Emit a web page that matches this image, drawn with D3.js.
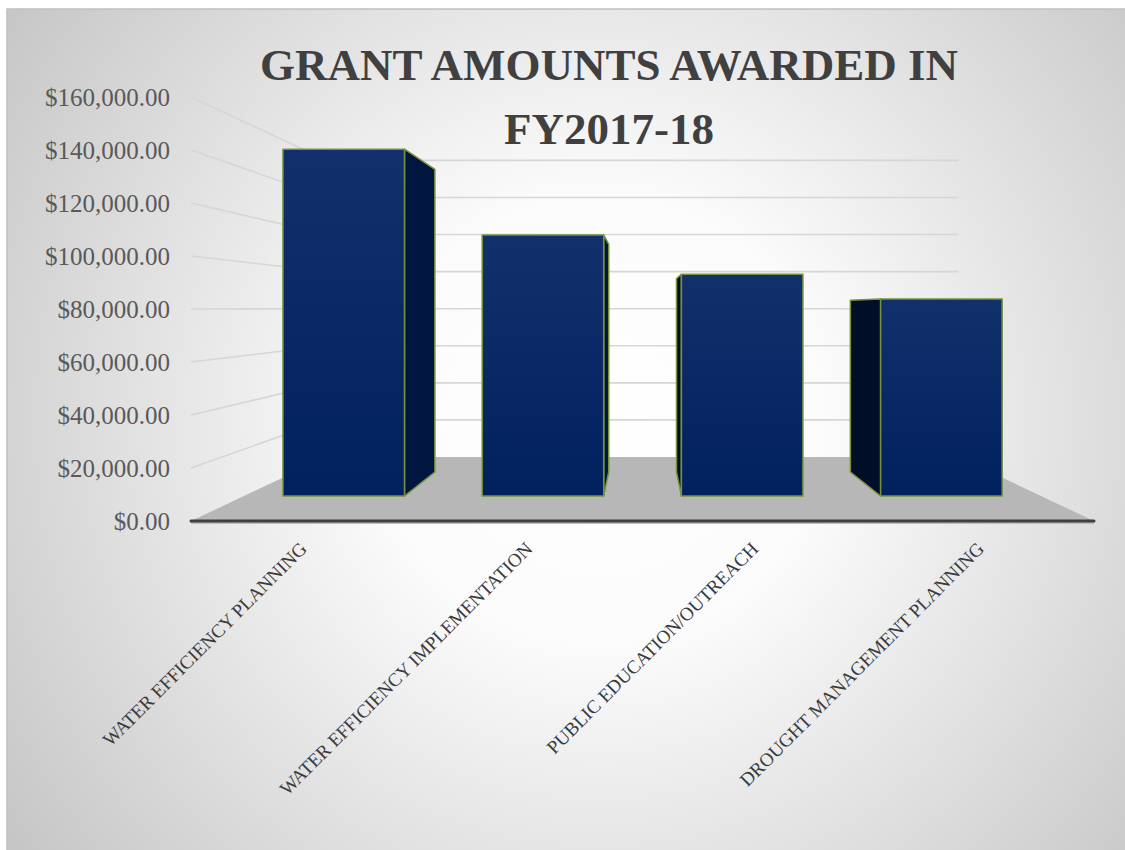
<!DOCTYPE html>
<html>
<head>
<meta charset="utf-8">
<script src="https://cdn.jsdelivr.net/npm/d3@7"></script>
<style>
  html, body { margin: 0; padding: 0; background: #ffffff; }
  svg { display: block; }
</style>
</head>
<body>
<svg id="chart" width="1125" height="850"></svg>
<script>
// ---- data ----
const categories = [
  "WATER EFFICIENCY PLANNING",
  "WATER EFFICIENCY IMPLEMENTATION",
  "PUBLIC EDUCATION/OUTREACH",
  "DROUGHT MANAGEMENT PLANNING"
];
const values = [148300, 111600, 94800, 84200];
const yTicks = [0, 20000, 40000, 60000, 80000, 100000, 120000, 140000, 160000];
const titleLines = ["GRANT AMOUNTS AWARDED IN", "FY2017-18"];

// ---- layout / projection ----
const W = 1125, H = 850;
const svg = d3.select("#chart");
const VX = 643, VY = 308, K = 0.4296;      // vanishing point & depth strength
const x = d3.scaleBand().domain(categories).range([191, 1094])
  .paddingInner(0.39).paddingOuter(0.195);
const y = d3.scaleLinear().domain([0, 160000]).range([521, 97]);
const barD0 = 0.31, barD1 = 0.695;
function P(fx, fy, d) {
  const s = 1 / (1 + K * d);
  return [VX + s * (fx - VX), VY + s * (fy - VY)];
}
const line = d3.line();
const poly = pts => "M" + pts.map(p => p.join(",")).join("L") + "Z";

// ---- defs ----
const defs = svg.append("defs");
const rg = defs.append("radialGradient").attr("id", "bg")
  .attr("gradientUnits", "userSpaceOnUse")
  .attr("cx", 600).attr("cy", 420).attr("r", 760);
rg.append("stop").attr("offset", 0).attr("stop-color", "#ffffff");
rg.append("stop").attr("offset", 0.3).attr("stop-color", "#fbfbfb");
rg.append("stop").attr("offset", 1).attr("stop-color", "#c2c2c2");
const fg = defs.append("linearGradient").attr("id", "front")
  .attr("x1", 0).attr("y1", 0).attr("x2", 0).attr("y2", 1);
fg.append("stop").attr("offset", 0).attr("stop-color", "#11306c");
fg.append("stop").attr("offset", 1).attr("stop-color", "#01205e");

// ---- background / frame ----
svg.append("rect").attr("x", 7).attr("y", 9).attr("width", W).attr("height", H)
  .attr("fill", "url(#bg)").attr("stroke", "#c0c0c0").attr("stroke-width", 1.5);

// ---- floor ----
const fl = [P(191, y(0), 0), P(1094, y(0), 0), P(1094, y(0), 1), P(191, y(0), 1)];
svg.append("path").attr("d", poly(fl)).attr("fill", "#b7b7b7");

// ---- gridlines (side wall + back wall) ----
const grid = svg.append("g").attr("fill", "none").attr("stroke", "#d6d6d6").attr("stroke-width", 1.6);
yTicks.filter(t => t > 0).forEach(t => {
  grid.append("path").attr("d", line([P(191, y(t), 0), P(191, y(t), 1), P(1094, y(t), 1)]));
});

// ---- front axis line ----
svg.append("line").attr("x1", 191).attr("x2", 1094).attr("y1", y(0) + 2).attr("y2", y(0) + 2)
  .attr("stroke", "#bdbdbd").attr("stroke-width", 2);
svg.append("line").attr("x1", 191).attr("x2", 1094).attr("y1", y(0)).attr("y2", y(0))
  .attr("stroke", "#3f3f3f").attr("stroke-width", 3).attr("stroke-linecap", "round");

// ---- bars ----
const bars = svg.append("g").attr("stroke", "#76923c").attr("stroke-width", 1.5)
  .attr("stroke-linejoin", "round");
categories.forEach((c, i) => {
  const x0 = x(c), x1 = x0 + x.bandwidth();
  const yb = y(0), yt = y(values[i]);
  const g = bars.append("g");
  if (P(x1, yt, barD1)[0] > P(x1, yt, barD0)[0]) {
    g.append("path").attr("fill", "#001540")
      .attr("d", poly([P(x1, yt, barD0), P(x1, yt, barD1), P(x1, yb, barD1), P(x1, yb, barD0)]));
  }
  if (P(x0, yt, barD1)[0] < P(x0, yt, barD0)[0]) {
    g.append("path").attr("fill", "#000e28")
      .attr("d", poly([P(x0, yt, barD0), P(x0, yt, barD1), P(x0, yb, barD1), P(x0, yb, barD0)]));
  }
  if (yt > VY) {
    g.append("path").attr("fill", "#1d3f80")
      .attr("d", poly([P(x0, yt, barD0), P(x1, yt, barD0), P(x1, yt, barD1), P(x0, yt, barD1)]));
  }
  g.append("path").attr("fill", "url(#front)")
    .attr("d", poly([P(x0, yt, barD0), P(x1, yt, barD0), P(x1, yb, barD0), P(x0, yb, barD0)]));
});

// ---- y axis labels ----
const fmt = d3.format(",.2f");
svg.append("g").selectAll("text").data(yTicks).join("text")
  .attr("x", 170).attr("y", d => y(d)).attr("dy", "0.35em")
  .attr("text-anchor", "end")
  .attr("font-family", "'Liberation Serif', serif").attr("font-size", 25)
  .attr("fill", "#595959")
  .text(d => "$" + fmt(d));

// ---- category labels ----
svg.append("g").selectAll("text").data(categories).join("text")
  .attr("transform", d => `translate(${x(d) + x.bandwidth() / 2 + 4},${y(0) + 29}) rotate(-45)`)
  .attr("text-anchor", "end")
  .attr("font-family", "'Liberation Serif', serif").attr("font-size", 19)
  .attr("fill", "#3a3a3a")
  .text(d => d);

// ---- title ----
svg.append("g").selectAll("text").data(titleLines).join("text")
  .attr("x", 609).attr("y", (d, i) => 80 + i * 64)
  .attr("text-anchor", "middle")
  .attr("font-family", "'Liberation Serif', serif").attr("font-weight", "bold")
  .attr("font-size", 45).attr("fill", "#404040")
  .text(d => d);
</script>
</body>
</html>
